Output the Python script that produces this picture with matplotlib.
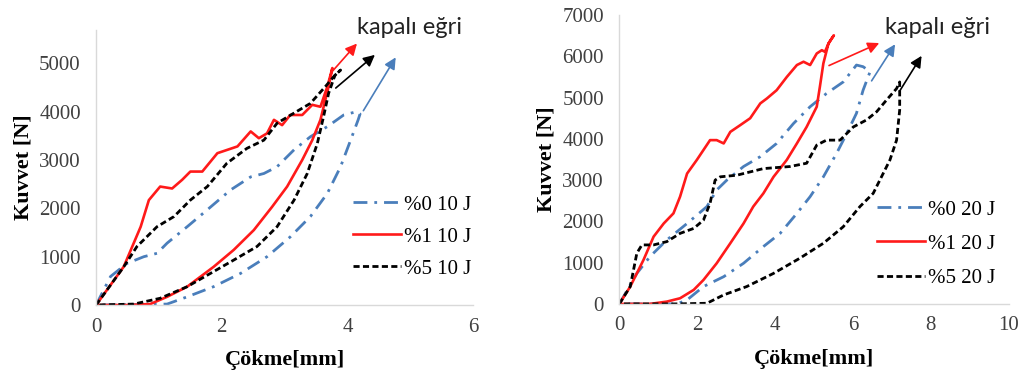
import matplotlib.pyplot as plt
import numpy as np

plt.rcParams["font.family"] = ["Liberation Serif", "DejaVu Serif"]
plt.rcParams["font.size"] = 15

# --- 10 J ---
x_0_10 = [0, 0.23, 0.49, 0.76, 0.97, 1.13, 1.45, 1.77, 2.14, 2.46, 2.67, 2.88, 3.15, 3.41, 3.68,
          3.94, 4.15, 4.2, 4.17, 4.05, 3.89, 3.68, 3.41, 3.09, 2.72, 2.3, 1.87, 1.45, 1.13, 0]
y_0_10 = [0, 590, 860, 1000, 1070, 1280, 1620, 1970, 2380, 2650, 2720, 2860, 3210, 3480, 3690,
          3930, 4000, 3950, 3830, 3410, 2860, 2310, 1830, 1410, 1000, 655, 380, 170, 20, 0]
x_1_10 = [0, 0.44, 0.71, 0.84, 1.02, 1.21, 1.37, 1.5, 1.69, 1.93, 2.25, 2.46, 2.59, 2.72, 2.83,
          2.96, 3.09, 3.28, 3.44, 3.57, 3.68, 3.76, 3.70, 3.57, 3.44, 3.28, 3.04, 2.8, 2.51, 2.19,
          1.87, 1.45, 1.13, 0.86, 0.49, 0]
y_1_10 = [0, 793, 1620, 2170, 2450, 2410, 2590, 2760, 2760, 3140, 3280, 3590, 3450, 3550, 3830,
          3720, 3930, 3930, 4140, 4100, 4520, 4900, 4520, 3830, 3410, 3000, 2450, 2030, 1550, 1140,
          790, 380, 170, 20, 0, 0]
x_5_10 = [0, 0.44, 0.65, 0.97, 1.24, 1.5, 1.77, 2.08, 2.4, 2.67, 2.88, 3.15, 3.41, 3.65, 3.78,
          3.89, 3.80, 3.70, 3.62, 3.52, 3.36, 3.15, 2.88, 2.56, 2.19, 1.82, 1.45, 1.02, 0.6, 0]
y_5_10 = [0, 790, 1210, 1620, 1830, 2170, 2450, 2930, 3240, 3410, 3760, 3970, 4170, 4520, 4720,
          4860, 4750, 4380, 3900, 3340, 2720, 2170, 1620, 1210, 930, 655, 380, 140, 20, 0]

# --- 20 J ---
x_0_20 = [0, 0.45, 0.79, 1.22, 1.74, 2.25, 2.5, 2.76, 3.19, 3.62, 4.04, 4.47, 4.9, 5.32, 5.75,
          6.09, 6.26, 6.44, 6.26, 6.09, 5.84, 5.58, 5.24, 4.9, 4.56, 4.13, 3.7, 3.19, 2.68, 2.16,
          1.74, 1.48, 0]
y_0_20 = [0, 740, 1150, 1550, 1950, 2360, 2760, 3000, 3330, 3570, 3890, 4370, 4780, 5100, 5380,
          5790, 5750, 5630, 5180, 4620, 4130, 3650, 3080, 2600, 2195, 1710, 1390, 985, 660, 420,
          97, 0, 0]
x_1_20 = [0, 0.28, 0.62, 0.88, 1.14, 1.39, 1.56, 1.74, 1.99, 2.16, 2.33, 2.5, 2.68, 2.85, 3.1,
          3.36, 3.62, 3.79, 4.04, 4.3, 4.56, 4.73, 4.9, 5.07, 5.2, 5.28, 5.37, 5.45, 5.51, 5.37,
          5.24, 5.15, 5.07, 4.81, 4.56, 4.3, 3.96, 3.7, 3.44, 3.19, 2.85, 2.5, 2.16, 1.91, 1.56,
          1.22, 0.79, 0]
y_1_20 = [0, 420, 1065, 1630, 1950, 2195, 2600, 3160, 3490, 3730, 3970, 3970, 3890, 4170, 4330,
          4500, 4860, 4980, 5180, 5500, 5790, 5870, 5790, 6070, 6150, 6110, 6310, 6430, 6510, 6310,
          5830, 5260, 4780, 4290, 3890, 3490, 3080, 2680, 2360, 1950, 1470, 985, 580, 340, 137,
          56, 0, 0]
x_5_20 = [0, 0.28, 0.45, 0.58, 0.88, 1.22, 1.56, 1.91, 2.16, 2.33, 2.46, 2.59, 3.02, 3.7, 4.38,
          4.81, 5.07, 5.32, 5.67, 6.01, 6.35, 6.61, 6.86, 7.12, 7.2, 7.2, 7.12, 6.95, 6.69, 6.52,
          6.18, 5.75, 5.24, 4.64, 3.96, 3.27, 2.68, 2.25, 1.48, 0]
y_5_20 = [0, 420, 1230, 1430, 1430, 1510, 1710, 1830, 2030, 2440, 3000, 3080, 3120, 3280, 3330,
          3410, 3850, 3970, 3970, 4290, 4460, 4660, 4940, 5220, 5380, 4700, 3970, 3490, 3000, 2680,
          2360, 1870, 1470, 1110, 740, 420, 218, 16, 0, 0]

labels_10 = ["%0 10 J", "%1 10 J", "%5 10 J"]
labels_20 = ["%0 20 J", "%1 20 J", "%5 20 J"]

# arrows (start, end) in data units, order: %0, %1, %5
arrows_10 = [((4.23, 3970), (4.79, 5170)), ((3.73, 4790), (4.18, 5450)), ((3.78, 4450), (4.47, 5210))]
arrows_20 = [((6.44, 5350), (7.12, 6350)), ((5.32, 5750), (6.74, 6350)), ((7.16, 5100), (7.8, 6070))]

blue = "#4a7ebb"
red = "#ff1a1a"
styles = [
    dict(color=blue, lw=2.0, linestyle=(0, (5, 2.5, 1, 2.5))),
    dict(color=red, lw=1.9, linestyle="-"),
    dict(color="black", lw=2.0, linestyle=(0, (2.2, 1.2))),
]
arrow_colors = [blue, red, "black"]

fig = plt.figure(figsize=(10.22, 3.78), dpi=100)
ax1 = fig.add_axes([0.094, 0.193, 0.369, 0.728])
ax2 = fig.add_axes([0.606, 0.196, 0.381, 0.764])


def draw(ax, xs, ys, labels, arrows, xmax, ymax, yticks, leg_anchor, spacing):
    for x, y, lab, st in zip(xs, ys, labels, styles):
        ax.plot(x, y, label=lab, **st)
    for (s, e), c in zip(arrows, arrow_colors):
        ax.annotate("", xy=e, xytext=s,
                    arrowprops=dict(arrowstyle="-|>", color=c, lw=1.2, mutation_scale=17),
                    annotation_clip=False)
    ax.set_xlim(0, xmax)
    ax.set_ylim(0, ymax)
    ax.set_xticks(np.arange(0, xmax + 1, 2))
    ax.set_yticks(yticks)
    for s in ["top", "right"]:
        ax.spines[s].set_visible(False)
    for s in ["left", "bottom"]:
        ax.spines[s].set_color("#d9d9d9")
        ax.spines[s].set_linewidth(1.0)
    ax.tick_params(length=0, colors="#404040", labelsize=15)
    ax.tick_params(axis="y", pad=11)
    ax.tick_params(axis="x", pad=9)
    ax.set_xlabel("Çökme[mm]", fontweight="bold", fontsize=16, labelpad=10)
    ax.set_ylabel("Kuvvet [N]", fontweight="bold", fontsize=16, labelpad=4)
    ax.legend(loc="upper left", bbox_to_anchor=leg_anchor, frameon=False, borderpad=0,
              handlelength=2.3, handletextpad=0.15, labelspacing=spacing, fontsize=15,
              borderaxespad=0)


draw(ax1, [x_0_10, x_1_10, x_5_10], [y_0_10, y_1_10, y_5_10], labels_10, arrows_10,
     6, 5690, np.arange(0, 5001, 1000), (0.682, 0.40), 0.6)
draw(ax2, [x_0_20, x_1_20, x_5_20], [y_0_20, y_1_20, y_5_20], labels_20, arrows_20,
     10, 7000, np.arange(0, 7001, 1000), (0.662, 0.36), 0.7)

for fx in [0.349, 0.866]:
    fig.text(fx, 0.928, "kapalı eğri", family=["Lato", "DejaVu Sans"], fontsize=17,
             color="#222222", va="center", ha="left")

fig.savefig("out.png", dpi=100)
